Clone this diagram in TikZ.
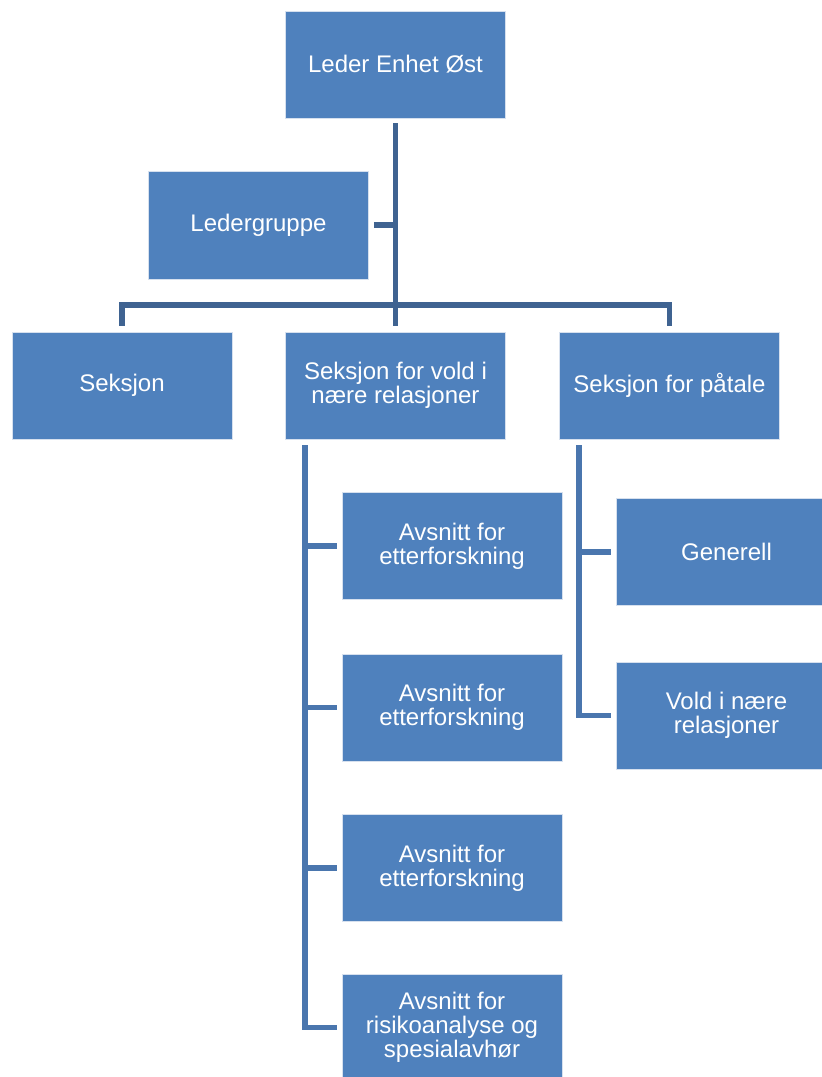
\documentclass[tikz,border=0pt]{standalone}
\usepackage{fontspec}
\setmainfont{Liberation Sans}
\definecolor{boxfill}{HTML}{4F81BD}
\definecolor{boxline}{HTML}{D6E0EE}
\definecolor{conntop}{HTML}{3F6391}
\definecolor{connlow}{HTML}{4A76AE}
\tikzset{
  orgbox/.style={draw=boxline, line width=0.8pt, fill=boxfill, text=white,
    minimum width=220pt, minimum height=107pt, align=center, inner sep=2pt,
    font=\fontsize{24}{24}\selectfont},
  conn/.style={draw=conntop, line width=5.2pt},
  connb/.style={draw=connlow, line width=5.2pt},
}
\begin{document}
\begin{tikzpicture}[x=1pt,y=1pt]
\useasboundingbox (0,0) rectangle (822,-1077);
\clip (0,0) rectangle (822,-1077);
\node[orgbox] (top) at (395.5,-64.5) {Leder Enhet Øst};
\node[orgbox, minimum height=108pt] (leder) at (258.5,-225) {Ledergruppe};
\node[orgbox] (seksjon) at (122,-385.5) {Seksjon};
\node[orgbox] (mid) at (395.5,-385.5) {Seksjon for vold i\\nære relasjoner};
\node[orgbox] (paatale) at (669.5,-385.5) {Seksjon for påtale};
\node[orgbox] (a1) at (452,-546) {Avsnitt for\\etterforskning};
\node[orgbox] (a2) at (452,-707.5) {Avsnitt for\\etterforskning};
\node[orgbox] (a3) at (452,-868) {Avsnitt for\\etterforskning};
\node[orgbox] (a4) at (452,-1027.5) {Avsnitt for\\risikoanalyse og\\spesialavhør};
\node[orgbox] (gen) at (726.5,-552) {Generell};
\node[orgbox] (vold) at (726.5,-715.5) {Vold i nære\\relasjoner};
% top connectors
\coordinate (bus) at (395.5,-305);
\draw[conn] ([yshift=-5pt]top.south) -- ([yshift=6pt]mid.north);
\draw[conn] ([xshift=5pt]leder.east) -- (leder.east -| top.south);
\draw[conn] ([yshift=6pt]seksjon.north) |- (bus) -| ([yshift=6pt]paatale.north);
% lower connectors
\coordinate (trunkA) at (305,-445);
\coordinate (trunkB) at (579,-445);
\draw[connb] (trunkA) |- ([xshift=-5pt]a4.west);
\draw[connb] (trunkA) |- ([xshift=-5pt]a1.west);
\draw[connb] (trunkA) |- ([xshift=-5pt]a2.west);
\draw[connb] (trunkA) |- ([xshift=-5pt]a3.west);
\draw[connb] (trunkB) |- ([xshift=-5pt]vold.west);
\draw[connb] (trunkB) |- ([xshift=-5pt]gen.west);
\end{tikzpicture}
\end{document}
